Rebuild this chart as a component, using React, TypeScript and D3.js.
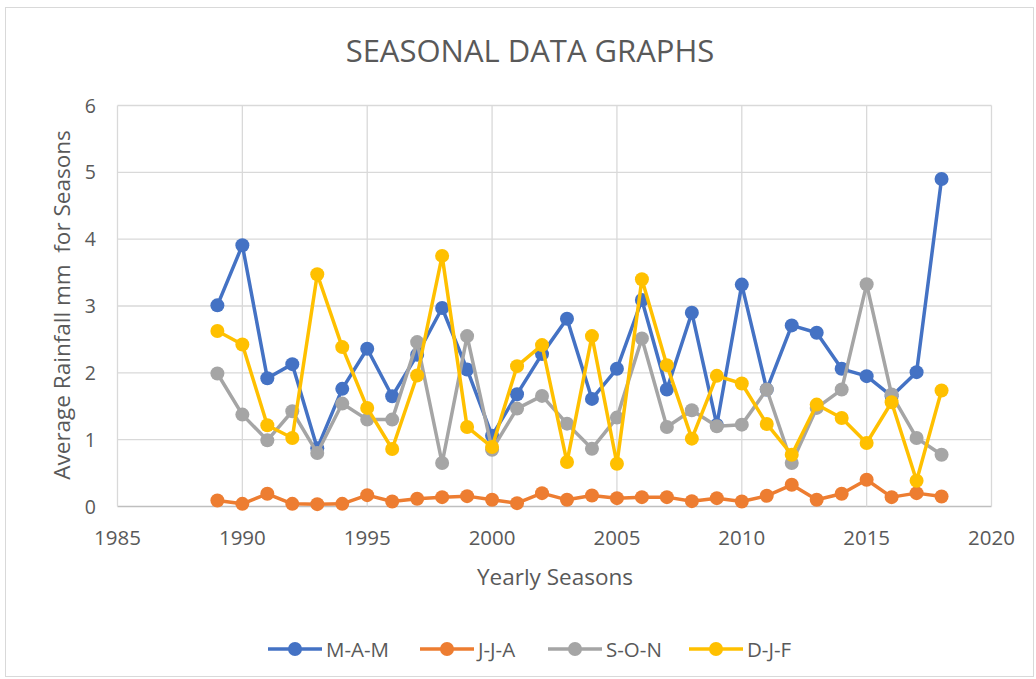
import { useEffect, useRef } from 'react'
import * as d3 from 'd3'

const YEARS = [
  1989, 1990, 1991, 1992, 1993, 1994, 1995, 1996, 1997, 1998, 1999, 2000, 2001, 2002, 2003,
  2004, 2005, 2006, 2007, 2008, 2009, 2010, 2011, 2012, 2013, 2014, 2015, 2016, 2017, 2018,
]

const MAM = [
  3.01, 3.91, 1.92, 2.13, 0.87, 1.76, 2.36, 1.65, 2.27, 2.97, 2.05, 1.06, 1.68, 2.28, 2.81,
  1.61, 2.06, 3.09, 1.75, 2.9, 1.22, 3.32, 1.75, 2.71, 2.6, 2.06, 1.95, 1.65, 2.01, 4.9,
]
const JJA = [
  0.09, 0.04, 0.19, 0.04, 0.035, 0.04, 0.17, 0.075, 0.115, 0.14, 0.155, 0.1, 0.05, 0.2, 0.1,
  0.165, 0.125, 0.14, 0.14, 0.08, 0.125, 0.075, 0.16, 0.325, 0.1, 0.19, 0.4, 0.14, 0.2, 0.15,
]
const SON = [
  1.99, 1.375, 0.99, 1.425, 0.8, 1.54, 1.3, 1.3, 2.46, 0.65, 2.55, 0.85, 1.465, 1.655, 1.24,
  0.865, 1.33, 2.515, 1.19, 1.44, 1.2, 1.225, 1.75, 0.65, 1.475, 1.75, 3.325, 1.675, 1.025, 0.775,
]
const DJF = [
  2.625, 2.425, 1.215, 1.025, 3.475, 2.385, 1.475, 0.86, 1.96, 3.75, 1.19, 0.89, 2.1, 2.415, 0.665,
  2.55, 0.64, 3.4, 2.115, 1.015, 1.955, 1.84, 1.235, 0.775, 1.525, 1.325, 0.95, 1.56, 0.385, 1.735,
]

const SERIES = [
  { name: 'M-A-M', values: MAM, color: '#4472C4' },
  { name: 'J-J-A', values: JJA, color: '#ED7D31' },
  { name: 'S-O-N', values: SON, color: '#A5A5A5' },
  { name: 'D-J-F', values: DJF, color: '#FFC000' },
]

const X_TICKS = [1985, 1990, 1995, 2000, 2005, 2010, 2015, 2020]
const Y_TICKS = [0, 1, 2, 3, 4, 5, 6]

const WIDTH = 1036
const HEIGHT = 679
const PLOT = { left: 117.5, right: 991.5, top: 105.5, bottom: 506.5 }
const FONT = '"Open Sans", "Liberation Sans", Arial, sans-serif'
const TEXT_COLOR = '#595959'

function App() {
  const ref = useRef<SVGSVGElement>(null)

  useEffect(() => {
    const svg = d3.select(ref.current)
    svg.selectAll('*').remove()

    const x = d3.scaleLinear().domain([1985, 2020]).range([PLOT.left, PLOT.right])
    const y = d3.scaleLinear().domain([0, 6]).range([PLOT.bottom, PLOT.top])

    svg
      .append('rect')
      .attr('x', 5.5)
      .attr('y', 7.5)
      .attr('width', WIDTH - 8)
      .attr('height', HEIGHT - 10)
      .attr('fill', '#fff')
      .attr('stroke', '#d9d9d9')

    svg
      .append('text')
      .attr('x', 530)
      .attr('y', 62)
      .attr('text-anchor', 'middle')
      .attr('font-family', FONT)
      .attr('font-size', 31)
      .attr('fill', TEXT_COLOR)
      .text('SEASONAL DATA GRAPHS')

    // grid
    const grid = svg.append('g')
    Y_TICKS.forEach((t) => {
      grid
        .append('line')
        .attr('x1', PLOT.left)
        .attr('x2', PLOT.right)
        .attr('y1', y(t))
        .attr('y2', y(t))
        .attr('stroke', t === 0 ? '#bfbfbf' : '#d9d9d9')
        .attr('stroke-width', 1.3)
    })
    X_TICKS.forEach((t) => {
      grid
        .append('line')
        .attr('x1', x(t))
        .attr('x2', x(t))
        .attr('y1', PLOT.top)
        .attr('y2', PLOT.bottom)
        .attr('stroke', '#d9d9d9')
        .attr('stroke-width', 1.3)
    })

    // tick labels
    Y_TICKS.forEach((t) => {
      svg
        .append('text')
        .attr('x', 96)
        .attr('y', y(t) + 7)
        .attr('text-anchor', 'end')
        .attr('font-family', FONT)
        .attr('font-size', 19.5)
        .attr('fill', TEXT_COLOR)
        .text(t)
    })
    X_TICKS.forEach((t) => {
      svg
        .append('text')
        .attr('x', x(t))
        .attr('y', 545)
        .attr('text-anchor', 'middle')
        .attr('font-family', FONT)
        .attr('font-size', 20.5)
        .attr('fill', TEXT_COLOR)
        .text(t)
    })

    svg
      .append('text')
      .attr('x', 555)
      .attr('y', 585)
      .attr('text-anchor', 'middle')
      .attr('font-family', FONT)
      .attr('font-size', 22.5)
      .attr('fill', TEXT_COLOR)
      .text('Yearly Seasons')

    svg
      .append('text')
      .attr('transform', `translate(70, 305) rotate(-90)`)
      .attr('text-anchor', 'middle')
      .attr('font-family', FONT)
      .attr('font-size', 22.5)
      .attr('fill', TEXT_COLOR)
      .style('white-space', 'pre')
      .text('Average Rainfall mm  for Seasons')

    const line = d3
      .line<number>()
      .x((_, i) => x(YEARS[i]))
      .y((d) => y(d))

    SERIES.forEach((s) => {
      const g = svg.append('g')
      g.append('path')
        .attr('d', line(s.values) ?? '')
        .attr('fill', 'none')
        .attr('stroke', s.color)
        .attr('stroke-width', 3.5)
        .attr('stroke-linejoin', 'round')
      g.selectAll('circle')
        .data(s.values)
        .join('circle')
        .attr('cx', (_, i) => x(YEARS[i]))
        .attr('cy', (d) => y(d))
        .attr('r', 7)
        .attr('fill', s.color)
    })

    // legend
    const legendX = [268, 420, 548, 689]
    const legend = svg.append('g').attr('transform', 'translate(0, 649)')
    SERIES.forEach((s, i) => {
      const item = legend.append('g').attr('transform', `translate(${legendX[i]}, 0)`)
      item
        .append('line')
        .attr('x1', 0)
        .attr('x2', 54)
        .attr('y1', 0)
        .attr('y2', 0)
        .attr('stroke', s.color)
        .attr('stroke-width', 3.5)
      item.append('circle').attr('cx', 27).attr('cy', 0).attr('r', 7).attr('fill', s.color)
      item
        .append('text')
        .attr('x', 58)
        .attr('y', 7.5)
        .attr('font-family', FONT)
        .attr('font-size', 20.5)
        .attr('fill', TEXT_COLOR)
        .text(s.name)
    })
  }, [])

  return (
    <svg
      ref={ref}
      width={WIDTH}
      height={HEIGHT}
      style={{ position: 'absolute', left: 0, top: 0, background: '#fff' }}
    />
  )
}

export default App
